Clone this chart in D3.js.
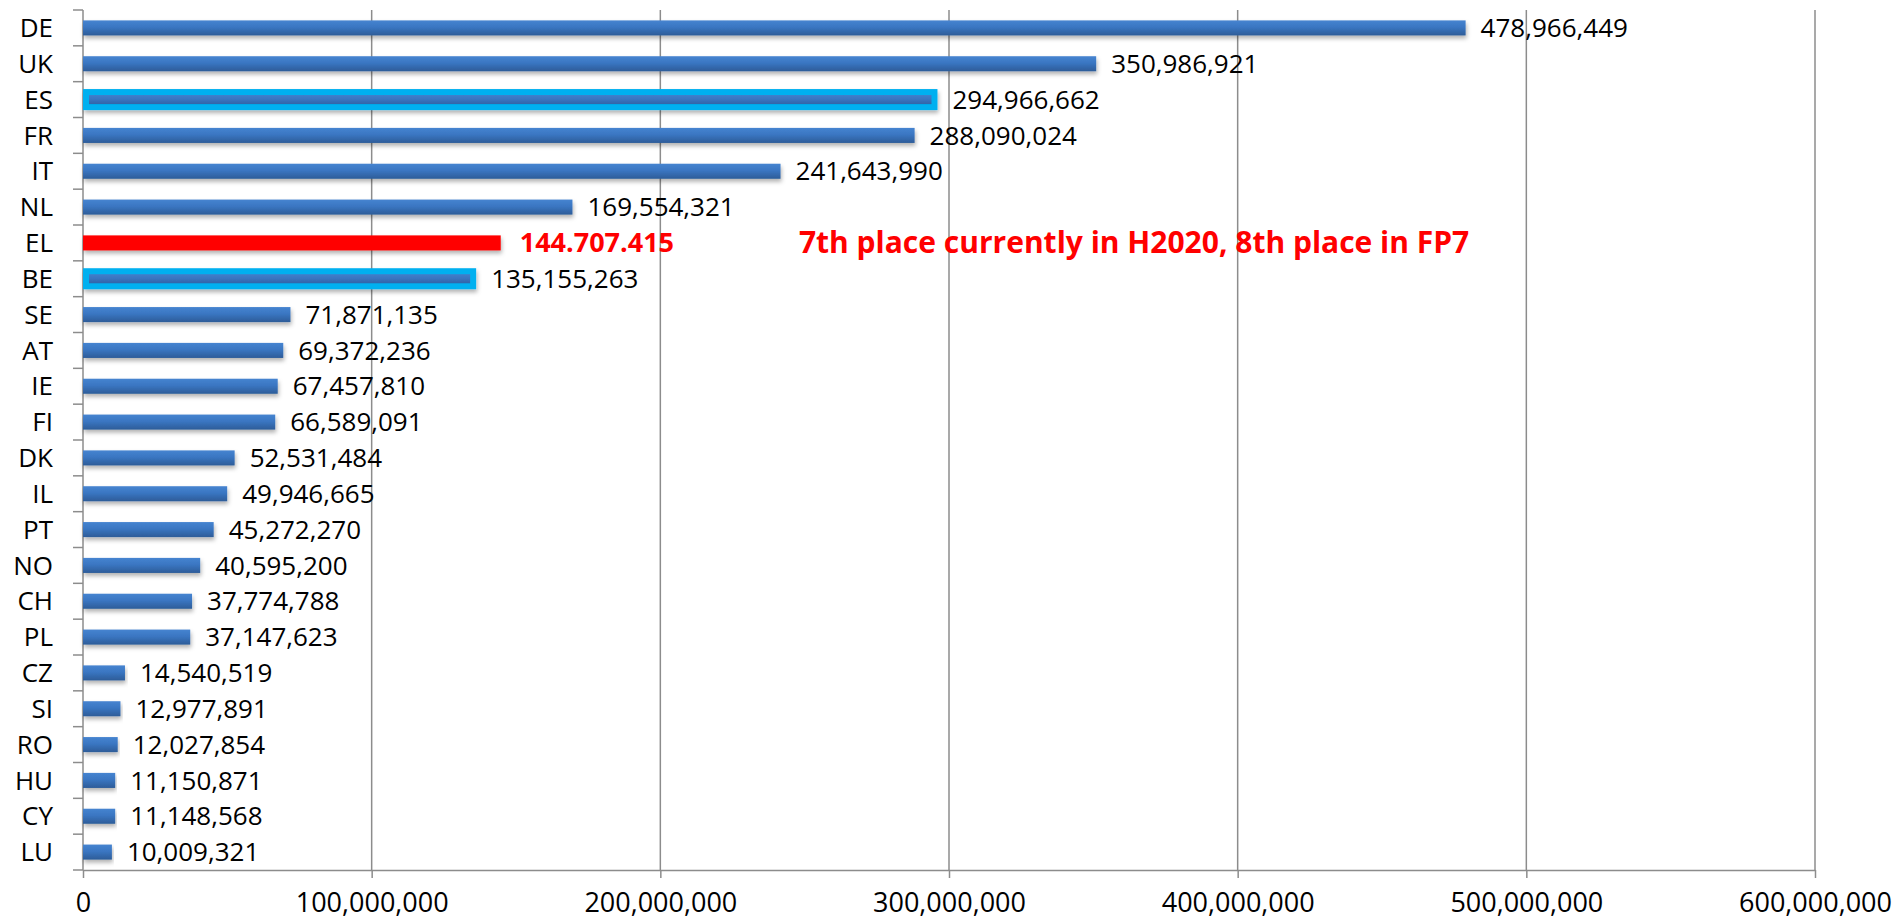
<!DOCTYPE html>
<html lang="en">
<head>
  <meta charset="UTF-8">
  <title>Funding by country</title>
  <style>
    body { margin: 0; background: #fff; }
    text { font-family: 'Open Sans', sans-serif; }
  </style>
</head>
<body>
  <div id="chart"></div>
  <script src="https://cdn.jsdelivr.net/npm/d3@7"></script>
  <script>
    // data
    const countries = ['DE', 'UK', 'ES', 'FR', 'IT', 'NL', 'EL', 'BE', 'SE', 'AT', 'IE', 'FI',
      'DK', 'IL', 'PT', 'NO', 'CH', 'PL', 'CZ', 'SI', 'RO', 'HU', 'CY', 'LU'];
    const amounts = [478966449, 350986921, 294966662, 288090024, 241643990, 169554321, 144707415,
      135155263, 71871135, 69372236, 67457810, 66589091, 52531484, 49946665, 45272270, 40595200,
      37774788, 37147623, 14540519, 12977891, 12027854, 11150871, 11148568, 10009321];
    const highlighted = ['ES', 'BE'];
    const focus = 'EL';
    const focusLabel = '144.707.415';
    const note = '7th place currently in H2020, 8th place in FP7';
    const xTicks = [0, 100000000, 200000000, 300000000, 400000000, 500000000, 600000000];

    const data = countries.map((c, i) => ({ country: c, value: amounts[i] }));

    const W = 1897, H = 920;
    const margin = { top: 10, right: 82, bottom: 50, left: 83 };
    const width = W - margin.left - margin.right;
    const height = H - margin.top - margin.bottom;
    const grey = '#8c8c8c';

    const svg = d3.select('#chart').append('svg')
      .attr('width', W)
      .attr('height', H);

    const defs = svg.append('defs');
    const grad = defs.append('linearGradient')
      .attr('id', 'bar-grad')
      .attr('x1', 0).attr('y1', 0).attr('x2', 0).attr('y2', 1);
    grad.append('stop').attr('offset', '0%').attr('stop-color', '#4684d0');
    grad.append('stop').attr('offset', '45%').attr('stop-color', '#3a76c2');
    grad.append('stop').attr('offset', '100%').attr('stop-color', '#2d5c98');

    const shadow = defs.append('filter')
      .attr('id', 'shadow')
      .attr('x', '-5%').attr('y', '-50%').attr('width', '110%').attr('height', '220%');
    shadow.append('feDropShadow')
      .attr('dx', 1).attr('dy', 3)
      .attr('stdDeviation', 2)
      .attr('flood-color', '#000')
      .attr('flood-opacity', 0.3);

    const g = svg.append('g')
      .attr('transform', `translate(${margin.left},${margin.top})`);

    const x = d3.scaleLinear()
      .domain([0, 600000000])
      .range([0, width]);

    const y = d3.scaleBand()
      .domain(countries)
      .range([0, height])
      .paddingInner(0.58)
      .paddingOuter(0.29);

    // vertical gridlines
    g.selectAll('.grid')
      .data(xTicks.slice(1))
      .enter().append('line')
      .attr('class', 'grid')
      .attr('x1', d => x(d)).attr('x2', d => x(d))
      .attr('y1', 0).attr('y2', height)
      .attr('stroke', grey)
      .attr('stroke-width', 1.5);

    // bottom axis
    const xAxis = d3.axisBottom(x)
      .tickValues(xTicks)
      .tickFormat(d3.format(','))
      .tickSize(8)
      .tickPadding(15)
      .tickSizeOuter(0);
    const xg = g.append('g')
      .attr('transform', `translate(0,${height})`)
      .call(xAxis);
    xg.select('.domain').attr('stroke', grey).attr('stroke-width', 1.5);
    xg.selectAll('.tick line').attr('stroke', grey).attr('stroke-width', 1.5);
    xg.selectAll('.tick text')
      .attr('fill', '#000')
      .style('font-size', '27px')
      .style('font-family', "'Open Sans', sans-serif");

    // left axis: line, ticks at band boundaries, labels
    g.append('line')
      .attr('x1', 0).attr('x2', 0)
      .attr('y1', 0).attr('y2', height)
      .attr('stroke', grey).attr('stroke-width', 1.5);
    const step = y.step();
    g.selectAll('.ytick')
      .data(d3.range(countries.length + 1))
      .enter().append('line')
      .attr('class', 'ytick')
      .attr('x1', -10).attr('x2', 0)
      .attr('y1', i => i * step).attr('y2', i => i * step)
      .attr('stroke', grey).attr('stroke-width', 1.5);
    g.selectAll('.ylabel')
      .data(data)
      .enter().append('text')
      .attr('class', 'ylabel')
      .attr('x', -30)
      .attr('y', d => y(d.country) + y.bandwidth() / 2)
      .attr('dy', '0.35em')
      .attr('text-anchor', 'end')
      .style('font-size', '26px')
      .text(d => d.country);

    // bars
    g.selectAll('.bar')
      .data(data)
      .enter().append('rect')
      .attr('class', 'bar')
      .attr('x', d => highlighted.includes(d.country) ? 3 : 0)
      .attr('y', d => y(d.country))
      .attr('width', d => x(d.value) - (highlighted.includes(d.country) ? 3 : 0))
      .attr('height', y.bandwidth())
      .attr('fill', d => d.country === focus ? '#ff0000' : 'url(#bar-grad)')
      .attr('stroke', d => highlighted.includes(d.country) ? '#00b0f0' : 'none')
      .attr('stroke-width', 6)
      .attr('filter', 'url(#shadow)');

    // value labels
    g.selectAll('.value')
      .data(data)
      .enter().append('text')
      .attr('class', 'value')
      .attr('x', d => x(d.value) + (d.country === focus ? 19 : highlighted.includes(d.country) ? 18 : 15))
      .attr('y', d => y(d.country) + y.bandwidth() / 2)
      .attr('dy', '0.35em')
      .attr('fill', d => d.country === focus ? '#ff0000' : '#000')
      .style('font-size', d => d.country === focus ? '27px' : '26px')
      .style('font-weight', d => d.country === focus ? 700 : 400)
      .text(d => d.country === focus ? focusLabel : d3.format(',')(d.value));

    // annotation next to the focus bar
    g.append('text')
      .attr('x', x(248000000))
      .attr('y', y(focus) + y.bandwidth() / 2)
      .attr('dy', '0.35em')
      .attr('fill', '#ff0000')
      .style('font-size', '30px')
      .style('font-weight', 700)
      .text(note);
  </script>
</body>
</html>
